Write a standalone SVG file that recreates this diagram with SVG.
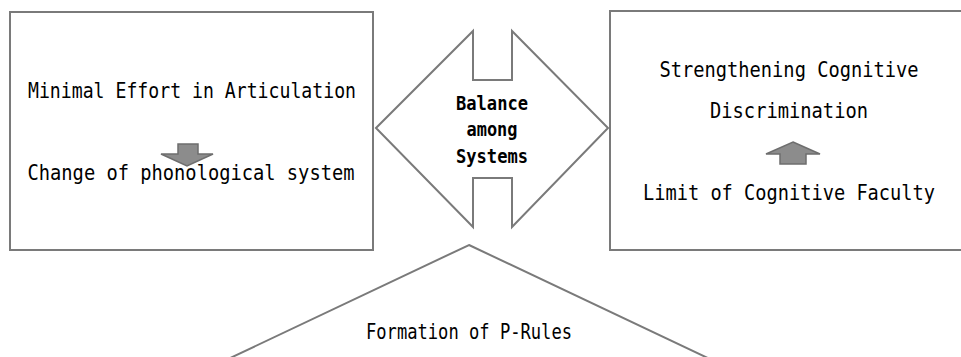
<svg xmlns="http://www.w3.org/2000/svg" width="961" height="357" viewBox="0 0 961 357">
<style>
.box{fill:#ffffff;stroke:#7a7a7a;stroke-width:2}
.shape{fill:#ffffff;stroke:#7a7a7a;stroke-width:2;stroke-linejoin:miter}
.arr{fill:#8c8c8c;stroke:#6e6e6e;stroke-width:1.5;stroke-linejoin:miter}
.t{font-family:"DejaVu Sans Mono","Liberation Mono",monospace;font-size:21.5px;fill:#000000;text-anchor:middle}
.b{font-family:"DejaVu Sans Mono","Liberation Mono",monospace;font-size:19px;font-weight:bold;fill:#000000;text-anchor:middle}
</style>
<rect width="961" height="357" fill="#ffffff"/>
<g id="node-left">
<rect class="box" x="10" y="12" width="363" height="238"/>
<text class="t" x="192" y="98" textLength="328" lengthAdjust="spacingAndGlyphs">Minimal Effort in Articulation</text>
<polygon class="arr" points="178,144 198,144 198,154 213,154 187,166 161,154 178,154"/>
<text class="t" x="191" y="180" textLength="327" lengthAdjust="spacingAndGlyphs">Change of phonological system</text>
</g>
<g id="node-right">
<rect class="box" x="610" y="11" width="353" height="239"/>
<text class="t" x="789" y="77" textLength="259" lengthAdjust="spacingAndGlyphs">Strengthening Cognitive</text>
<text class="t" x="789" y="118" textLength="158" lengthAdjust="spacingAndGlyphs">Discrimination</text>
<polygon class="arr" points="793,142 820,154 806,154 806,164 780,164 780,154 766,154"/>
<text class="t" x="789" y="200" textLength="292" lengthAdjust="spacingAndGlyphs">Limit of Cognitive Faculty</text>
</g>
<g id="node-center">
<polygon class="shape" points="376,128 473,31 473,80 512,80 512,31 608,128 512,227 512,178 473,178 473,227"/>
<text class="b" x="492" y="110" textLength="72" lengthAdjust="spacingAndGlyphs">Balance</text>
<text class="b" x="492" y="136" textLength="51" lengthAdjust="spacingAndGlyphs">among</text>
<text class="b" x="492" y="163" textLength="72" lengthAdjust="spacingAndGlyphs">Systems</text>
</g>
<g id="node-bottom">
<polygon class="shape" points="469,245 712,360 226,360"/>
<text class="t" x="469" y="339" textLength="206" lengthAdjust="spacingAndGlyphs">Formation of P-Rules</text>
</g>
<g id="connectors"></g>
</svg>
